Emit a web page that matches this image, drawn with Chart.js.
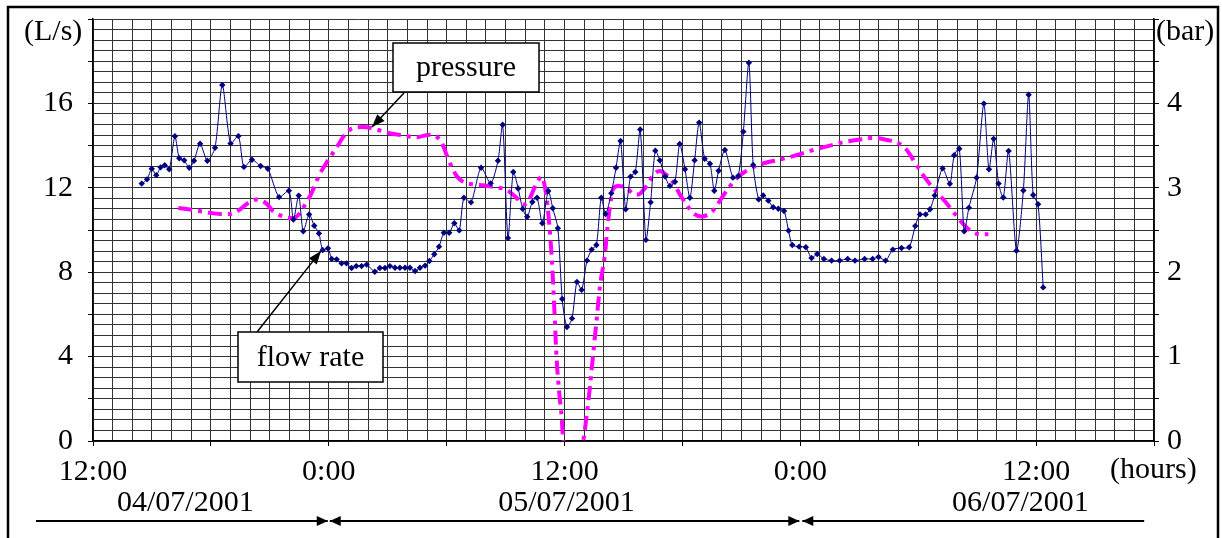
<!DOCTYPE html>
<html>
<head>
<meta charset="utf-8">
<script src="https://cdn.jsdelivr.net/npm/chart.js@4/dist/chart.umd.min.js"></script>
<style>
  html, body { margin: 0; padding: 0; background: #fff; }
  #wrap { width: 1222px; height: 538px; }
</style>
</head>
<body>
<div id="wrap"><canvas id="chart" width="1222" height="538"></canvas></div>
<script>
// hours counted from 12:00 on 04/07/2001
const flowHours = [
  2.48, 2.75, 2.99, 3.22, 3.44, 3.65, 3.88, 4.17, 4.39, 4.64, 4.9, 5.14, 5.45, 5.82, 6.21, 6.58,
  7.0, 7.4, 7.68, 8.09, 8.53, 8.9, 9.47, 9.97, 10.2, 10.47, 10.7, 11.0, 11.26, 11.5, 11.69, 11.96,
  12.15, 12.4, 12.65, 12.9, 13.16, 13.4, 13.67, 13.93, 14.34, 14.6, 14.86, 15.11, 15.37, 15.62,
  15.88, 16.13, 16.39, 16.64, 16.9, 17.12, 17.37, 17.61, 17.86, 18.13, 18.39, 18.64, 18.88, 19.24,
  19.75, 20.24, 20.61, 20.85, 21.12, 21.39, 21.64, 21.87, 22.1, 22.36, 22.6, 22.87, 23.17, 23.4,
  23.66, 23.88, 24.12, 24.38, 24.63, 24.87, 25.14, 25.38, 25.62, 25.87, 26.09, 26.38, 26.62, 26.85,
  27.11, 27.36, 27.6, 27.85, 28.14, 28.38, 28.62, 28.85, 29.12, 29.36, 29.62, 29.86, 30.13, 30.38,
  30.62, 30.85, 31.13, 31.4, 31.62, 31.84, 32.16, 32.57, 32.84, 33.1, 33.38, 33.6, 33.88, 34.11,
  34.37, 34.62, 34.88, 35.17, 35.4, 35.59, 35.94, 36.28, 36.57, 36.86, 37.2, 37.59, 38.0, 38.41,
  38.78, 39.27, 39.68, 39.98, 40.34, 40.71, 41.15, 41.54, 41.85, 42.09, 42.38, 42.6, 42.84, 43.24,
  43.61, 43.83, 44.09, 44.34, 44.58, 44.97, 45.34, 45.6, 45.84, 46.09, 46.33, 46.6, 47.0, 47.35,
  47.62, 47.85, 48.1, 48.36
];
const flowValues = [
  12.2, 12.4, 12.9, 12.6, 12.97, 13.07, 12.88, 14.44, 13.4, 13.3, 12.95, 13.28, 14.09, 13.28, 13.9, 16.87,
  14.1, 14.45, 12.99, 13.33, 13.03, 12.9, 11.56, 11.86, 10.5, 11.63, 9.94, 10.74, 10.2, 9.84, 9.05, 9.13,
  8.63, 8.61, 8.42, 8.42, 8.2, 8.29, 8.29, 8.36, 8.02, 8.2, 8.2, 8.29, 8.21, 8.21,
  8.21, 8.21, 8.06, 8.21, 8.31, 8.53, 8.85, 9.21, 9.87, 9.87, 10.32, 9.98, 11.53, 11.31,
  12.95, 12.21, 13.28, 14.99, 9.62, 12.75, 11.97, 11.0, 10.63, 11.33, 11.53, 10.32, 11.85, 11.03,
  10.08, 6.73, 5.4, 5.81, 7.54, 7.16, 8.55, 9.07, 9.29, 11.53, 10.76, 11.74, 12.95, 14.22,
  10.98, 12.53, 12.75, 14.76, 9.53, 11.31, 13.76, 13.3, 12.53, 12.09, 12.29, 14.08, 12.88, 11.53,
  13.3, 15.09, 13.38, 13.14, 11.86, 12.81, 13.79, 12.48, 12.56, 14.66, 17.93, 13.08, 11.45, 11.64,
  11.39, 11.08, 11.01, 10.9, 9.97, 9.29, 9.21, 9.18, 8.67, 8.86, 8.63, 8.55, 8.55, 8.63,
  8.55, 8.63, 8.63, 8.72, 8.55, 9.07, 9.15, 9.18, 10.19, 10.74, 10.74, 10.98, 11.64, 12.92,
  12.19, 13.54, 13.85, 9.94, 11.06, 12.48, 15.99, 12.88, 14.32, 12.2, 11.54, 13.75, 9.02, 11.87,
  16.41, 11.66, 11.22, 7.28
];

const pressureHours = [
  4.34, 5.02, 5.79, 6.46, 6.97, 7.4, 7.9, 8.33, 8.84, 9.18, 9.69, 10.2, 10.53, 10.79, 11.13, 11.47,
  11.81, 12.15, 12.48, 12.82, 13.25, 13.76, 14.44, 15.03, 15.79, 16.47, 17.15, 17.57, 17.83, 18.03,
  18.25, 18.51, 18.84, 19.35, 19.86, 20.37, 20.88, 21.22, 21.56, 21.9, 22.15, 22.49, 22.83, 23.0,
  23.17, 23.34, 23.46, 23.6, 23.73, 23.85, 23.93, 24.4, 24.95, 25.12, 25.29, 25.46, 25.63, 25.8,
  26.06, 26.17, 26.31, 26.48, 26.73, 27.07, 27.5, 27.75, 28.0, 28.26, 28.51, 28.85, 29.2, 29.62,
  29.87, 30.21, 30.55, 30.98, 31.4, 31.7, 32.0, 32.42, 32.84, 33.18, 33.78, 34.28, 34.88, 35.55,
  36.15, 36.83, 37.5, 38.18, 38.95, 39.71, 40.36, 40.98, 41.41, 41.83, 42.34, 42.93, 43.36, 43.87,
  44.29, 44.8, 45.23, 45.57
];
const pressureValues = [
  2.76, 2.74, 2.71, 2.69, 2.69, 2.73, 2.82, 2.86, 2.81, 2.72, 2.66, 2.64, 2.70, 2.80, 2.94, 3.13,
  3.27, 3.39, 3.51, 3.63, 3.71, 3.72, 3.69, 3.65, 3.62, 3.60, 3.63, 3.59, 3.49, 3.37,
  3.25, 3.14, 3.07, 3.04, 3.03, 3.01, 2.99, 2.95, 2.88, 2.80, 2.84, 3.01, 3.13, 3.01,
  2.70, 2.20, 1.67, 0.96, 0.57, 0.29, 0.01, -0.5, 0.0, 0.29, 0.64, 1.04, 1.43, 1.83,
  2.22, 2.50, 2.78, 2.99, 3.02, 3.01, 2.93, 2.92, 2.97, 3.05, 3.15, 3.20, 3.15, 3.03,
  2.92, 2.80, 2.70, 2.66, 2.70, 2.77, 2.88, 3.02, 3.13, 3.19, 3.26, 3.30, 3.33, 3.37,
  3.41, 3.46, 3.50, 3.54, 3.57, 3.59, 3.57, 3.53, 3.45, 3.30, 3.12, 2.95, 2.84, 2.69,
  2.57, 2.47, 2.45, 2.45
];

const xTickLabels = ["12:00", "0:00", "12:00", "0:00", "12:00"];
const dateLabels = ["04/07/2001", "05/07/2001", "06/07/2001"];
const dateHours = [4.7, 24.1, 47.2];

const FONT = '"Liberation Serif", "Times New Roman", serif';
const GRID = "#333";

function arrowHead(ctx, x1, y1, x2, y2, len, half) {
  const a = Math.atan2(y2 - y1, x2 - x1);
  ctx.beginPath();
  ctx.moveTo(x2, y2);
  ctx.lineTo(x2 - len * Math.cos(a) + half * Math.sin(a), y2 - len * Math.sin(a) - half * Math.cos(a));
  ctx.lineTo(x2 - len * Math.cos(a) - half * Math.sin(a), y2 - len * Math.sin(a) + half * Math.cos(a));
  ctx.closePath();
  ctx.fill();
}

function arrow(ctx, x1, y1, x2, y2, len, half) {
  ctx.beginPath();
  ctx.moveTo(x1, y1);
  ctx.lineTo(x2, y2);
  ctx.stroke();
  arrowHead(ctx, x1, y1, x2, y2, len, half);
}

function callout(ctx, box, text) {
  ctx.fillStyle = "#fff";
  ctx.fillRect(box.x, box.y, box.w, box.h);
  ctx.strokeStyle = "#000";
  ctx.lineWidth = 1.5;
  ctx.strokeRect(box.x, box.y, box.w, box.h);
  ctx.fillStyle = "#000";
  ctx.textAlign = "center";
  ctx.fillText(text, box.x + box.w / 2, box.y + box.h / 2 + 1);
}

// drop the label overflow padding so the plot fills its box
function noPadY(s) { s.paddingTop = 0; s.paddingBottom = 0; }

const decor = {
  id: "decor",
  beforeDraw(chart) {
    const ctx = chart.ctx;
    ctx.save();
    ctx.fillStyle = "#fff";
    ctx.fillRect(0, 0, chart.width, chart.height);
    ctx.restore();
  },
  afterDraw(chart) {
    const { ctx, scales: { x, y, y2 } } = chart;
    ctx.save();
    ctx.font = "30px " + FONT;
    ctx.fillStyle = "#000";
    ctx.textBaseline = "middle";

    ctx.textAlign = "left";
    ctx.fillText("(L/s)", 24, 32);
    ctx.fillText("(bar)", 1156, 32);
    ctx.fillText("(hours)", 1110, 470);

    ctx.textAlign = "center";
    dateLabels.forEach((t, i) => ctx.fillText(t, x.getPixelForValue(dateHours[i]), 503));

    // day spans
    ctx.strokeStyle = "#000";
    ctx.lineWidth = 2;
    const ay = 521;
    const d1 = x.getPixelForValue(12), d2 = x.getPixelForValue(36);
    arrow(ctx, 36, ay, d1 - 1, ay, 11, 5);
    arrow(ctx, d2 - 1, ay, d1 + 1, ay, 11, 5);
    arrowHead(ctx, d1 + 1, ay, d2 - 1, ay, 11, 5);
    arrow(ctx, x.getPixelForValue(53.5), ay, d2 + 2, ay, 11, 5);

    // callouts
    ctx.lineWidth = 1.5;
    const pTipX = x.getPixelForValue(14.2), pTipY = y2.getPixelForValue(3.72);
    arrow(ctx, 404, 93, pTipX, pTipY, 13, 5);
    const fTipX = x.getPixelForValue(11.6), fTipY = y.getPixelForValue(9.0);
    arrow(ctx, 257, 332, fTipX, fTipY, 13, 5);
    callout(ctx, { x: 393, y: 43, w: 146, h: 49 }, "pressure");
    callout(ctx, { x: 238, y: 332, w: 145, h: 50 }, "flow rate");

    // outer frame
    ctx.strokeStyle = "#000";
    ctx.lineWidth = 2.5;
    ctx.strokeRect(8, 7, 1210, 545);
    ctx.restore();
  }
};

const flowData = flowHours.map((h, i) => ({ x: h, y: flowValues[i] }));
const pressureData = pressureHours.map((h, i) => ({ x: h, y: pressureValues[i] }));

new Chart(document.getElementById("chart"), {
  type: "line",
  data: {
    datasets: [
      {
        label: "flow rate",
        data: flowData,
        yAxisID: "y",
        borderColor: "#000080",
        borderWidth: 1,
        pointStyle: "rectRot",
        pointRadius: 3.2,
        pointBackgroundColor: "#000080",
        pointBorderColor: "#000080",
        pointBorderWidth: 0,
        tension: 0.25,
        order: 1
      },
      {
        label: "pressure",
        data: pressureData,
        yAxisID: "y2",
        borderColor: "#ff00ff",
        borderWidth: 4,
        borderDash: [14, 6, 4, 6],
        pointRadius: 0,
        cubicInterpolationMode: "monotone",
        order: 2
      }
    ]
  },
  options: {
    responsive: false,
    animation: false,
    events: [],
    layout: { padding: { top: 19, left: 0, right: 0, bottom: 0 } },
    plugins: { legend: { display: false }, tooltip: { enabled: false } },
    scales: {
      x: {
        type: "linear",
        min: 0,
        max: 54,
        afterFit: (s) => { s.height = 97; s.paddingLeft = 0; s.paddingRight = 0; },
        border: { display: true, color: "#000", width: 1.5 },
        grid: {
          color: GRID,
          lineWidth: 1,
          tickLength: 5,
          tickColor: (c) => (c.tick && c.tick.value % 6 === 0 ? "#000" : "rgba(0,0,0,0)")
        },
        ticks: {
          stepSize: 1,
          maxTicksLimit: 100,
          autoSkip: false,
          maxRotation: 0,
          padding: 8,
          color: "#000",
          font: { family: FONT, size: 30 },
          callback: (v) => (v % 12 === 0 && v < 54 ? xTickLabels[v / 12] : "")
        }
      },
      y: {
        position: "left",
        min: 0,
        max: 20,
        afterFit: (s) => { s.width = 93; noPadY(s); },
        border: { display: true, color: "#000", width: 1.5 },
        grid: {
          color: GRID,
          lineWidth: 1,
          tickLength: 5,
          tickColor: (c) => (c.tick && c.tick.value % 2 === 0 ? "#000" : "rgba(0,0,0,0)")
        },
        ticks: {
          stepSize: 0.5,
          maxTicksLimit: 100,
          autoSkip: false,
          padding: 15,
          color: "#000",
          font: { family: FONT, size: 30 },
          callback: (v) => (v % 4 === 0 && v < 20 ? String(v) : "")
        }
      },
      y2: {
        position: "right",
        min: 0,
        max: 5,
        afterFit: (s) => { s.width = 68; noPadY(s); },
        border: { display: true, color: "#000", width: 1.5 },
        grid: { drawOnChartArea: false, tickLength: 5, tickColor: "#000" },
        ticks: {
          stepSize: 0.5,
          maxTicksLimit: 100,
          autoSkip: false,
          padding: 8,
          color: "#000",
          font: { family: FONT, size: 30 },
          callback: (v) => (Number.isInteger(v) && v < 5 ? String(v) : "")
        }
      }
    }
  },
  plugins: [decor]
});
</script>
</body>
</html>
